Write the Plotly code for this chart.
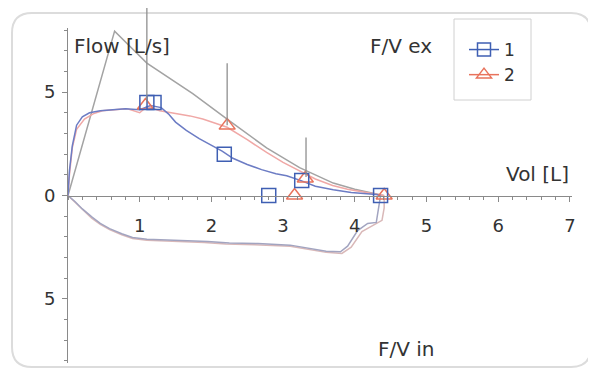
import plotly.graph_objects as go

# ---------------- data ----------------
# trial 1 (blue) expiratory limb
vol1_ex = [0, 0.02, 0.06, 0.12, 0.2, 0.3, 0.45, 0.6, 0.8, 1.0, 1.15, 1.3, 1.4, 1.5, 1.65, 1.83,
           2.0, 2.15, 2.3, 2.5, 2.7, 2.9, 3.05, 3.25, 3.45, 3.7, 3.95, 4.15, 4.3, 4.36]
flow1_ex = [0, 1.2, 2.4, 3.4, 3.8, 4.0, 4.1, 4.15, 4.2, 4.15, 4.35, 4.25, 3.95, 3.55, 3.15, 2.75,
            2.45, 2.15, 1.8, 1.5, 1.25, 1.05, 0.95, 0.72, 0.45, 0.28, 0.15, 0.1, 0.05, 0]
# trial 1 inspiratory limb
vol1_in = [4.36, 4.34, 4.32, 4.3, 4.18, 4.04, 3.9, 3.8, 3.6, 3.45, 3.1, 2.65, 2.25, 1.95, 1.5,
           1.1, 0.9, 0.75, 0.58, 0.45, 0.34, 0.2, 0.1, 0]
flow1_in = [0, -0.4, -0.9, -1.3, -1.35, -1.7, -2.45, -2.72, -2.7, -2.62, -2.4, -2.32, -2.3, -2.22,
            -2.17, -2.12, -2.03, -1.85, -1.6, -1.35, -1.06, -0.65, -0.3, 0]
# trial 2 (red) expiratory limb
vol2_ex = [0, 0.02, 0.06, 0.12, 0.23, 0.35, 0.48, 0.65, 0.82, 1.0, 1.1, 1.28, 1.51, 1.7, 1.88,
           2.05, 2.22, 2.5, 2.77, 3.0, 3.23, 3.45, 3.69, 3.9, 4.16, 4.3, 4.41]
flow2_ex = [0, 1.0, 2.3, 3.2, 3.7, 3.95, 4.1, 4.15, 4.2, 4.0, 4.3, 4.1, 3.96, 3.85, 3.7,
            3.5, 3.3, 2.7, 2.08, 1.6, 1.2, 0.8, 0.48, 0.3, 0.15, 0.08, 0]
# trial 2 inspiratory limb
vol2_in = [4.41, 4.41, 4.38, 4.25, 4.1, 3.95, 3.82, 3.6, 3.4, 3.1, 2.6, 2.2, 1.9, 1.5, 1.1,
           0.9, 0.75, 0.58, 0.45, 0.33, 0.2, 0.1, 0]
flow2_in = [0, -0.6, -1.2, -1.45, -1.75, -2.5, -2.8, -2.75, -2.62, -2.45, -2.38, -2.35, -2.27,
            -2.2, -2.16, -2.08, -1.9, -1.65, -1.4, -1.1, -0.68, -0.32, 0]
# predicted curve (gray)
vol_pred = [0, 0.65, 1.1, 1.42, 1.74, 2.21, 2.77, 3.23, 3.7, 4.0, 4.4]
flow_pred = [0, 7.95, 6.4, 5.65, 4.93, 3.72, 2.3, 1.35, 0.6, 0.3, 0]
# marker points
vol1_mk = [1.1, 1.2, 2.18, 3.26, 2.8, 4.36]
flow1_mk = [4.5, 4.5, 2.0, 0.72, 0, 0]
vol2_mk = [1.08, 2.22, 3.31, 3.16, 4.41]
flow2_mk = [4.35, 3.38, 0.82, 0, 0]
# predicted range bars
range_vol = [1.1, 2.22, 3.32]
range_lo = [4.5, 3.4, 0.9]
range_hi = [9.9, 6.4, 2.8]
# axes
x_ticks = [1, 2, 3, 4, 5, 6, 7]
y_ticks = [-5, 0, 5]
y_ticktext = ["5", "0", "5"]
series_names = ["1", "2"]

# ---------------- style ----------------
OFF = 8                      # page body margin offset (screen = figure + OFF)
W, H = 596 - OFF, 374 - OFF
# plot area in screen pixels
SX0, SX1, SY0, SY1 = 68, 572, 28, 363
ML, MT = SX0 - OFF, SY0 - OFF
MR, MB = W - (SX1 - OFF), H - (SY1 - OFF)
PW, PH = SX1 - SX0, SY1 - SY0
XR = [0, 7.03]
YR = [-8.1, 8.1]
FONT = "DejaVu Sans"
BLUE_LINE = "#6c7cc4"
BLUE_MK = "#3f5fb3"
RED_LINE = "#f0a8a6"
RED_MK = "#e8735c"
GRAY = "#a3a3a3"
AXIS = "#8a8a8a"
TXT = "#333333"


def xp(v):
    return (v - XR[0]) / (XR[1] - XR[0])


def yp(v):
    return (v - YR[0]) / (YR[1] - YR[0])


def pxp(sx):
    return (sx - SX0) / PW


def pyp(sy):
    return (SY1 - sy) / PH


fig = go.Figure()

fig.add_trace(go.Scatter(x=vol_pred, y=flow_pred, mode="lines",
                         line=dict(color=GRAY, width=1.5), showlegend=False, hoverinfo="skip"))
fig.add_trace(go.Scatter(x=vol2_in, y=flow2_in, mode="lines",
                         line=dict(color="#d9b8b8", width=1.5), showlegend=False))
fig.add_trace(go.Scatter(x=vol1_in, y=flow1_in, mode="lines",
                         line=dict(color="#a2a4c0", width=1.5), showlegend=False))
fig.add_trace(go.Scatter(x=vol2_ex, y=flow2_ex, mode="lines",
                         line=dict(color=RED_LINE, width=1.5), showlegend=False))
fig.add_trace(go.Scatter(x=vol1_ex, y=flow1_ex, mode="lines",
                         line=dict(color=BLUE_LINE, width=1.5), showlegend=False))
fig.add_trace(go.Scatter(x=vol2_mk, y=flow2_mk, mode="markers", cliponaxis=False,
                         marker=dict(symbol="triangle-up-open", size=14,
                                     line=dict(color=RED_MK, width=1.5), color=RED_MK),
                         showlegend=False))
fig.add_trace(go.Scatter(x=vol1_mk, y=flow1_mk, mode="markers", cliponaxis=False,
                         marker=dict(symbol="square-open", size=14,
                                     line=dict(color=BLUE_MK, width=1.5), color=BLUE_MK),
                         showlegend=False))
# legend entries
fig.add_trace(go.Scatter(x=[None], y=[None], mode="lines+markers", name=series_names[0],
                         line=dict(color=BLUE_MK, width=1.5),
                         marker=dict(symbol="square-open", size=13, color=BLUE_MK,
                                     line=dict(color=BLUE_MK, width=1.5))))
fig.add_trace(go.Scatter(x=[None], y=[None], mode="lines+markers", name=series_names[1],
                         line=dict(color=RED_MK, width=1.5),
                         marker=dict(symbol="triangle-up-open", size=13, color=RED_MK,
                                     line=dict(color=RED_MK, width=1.5))))

shapes = []
# card border (rounded)
x0, x1, y0, y1, r = 12, 591, 13, 367, 20
path = (f"M {pxp(x0 + r)},{pyp(y0)} L {pxp(x1 - r)},{pyp(y0)} "
        f"Q {pxp(x1)},{pyp(y0)} {pxp(x1)},{pyp(y0 + r)} "
        f"L {pxp(x1)},{pyp(y1 - r)} Q {pxp(x1)},{pyp(y1)} {pxp(x1 - r)},{pyp(y1)} "
        f"L {pxp(x0 + r)},{pyp(y1)} Q {pxp(x0)},{pyp(y1)} {pxp(x0)},{pyp(y1 - r)} "
        f"L {pxp(x0)},{pyp(y0 + r)} Q {pxp(x0)},{pyp(y0)} {pxp(x0 + r)},{pyp(y0)} Z")
shapes.append(dict(type="path", path=path, xref="paper", yref="paper", layer="below",
                   line=dict(color="#dcdcdc", width=2), fillcolor="white"))
# legend box
shapes.append(dict(type="rect", xref="paper", yref="paper", layer="below",
                   x0=pxp(454), x1=pxp(531), y0=pyp(100), y1=pyp(19),
                   line=dict(color="#d0d0d0", width=1), fillcolor="white"))
for v, lo, hi in zip(range_vol, range_lo, range_hi):
    shapes.append(dict(type="line", xref="paper", yref="paper",
                       x0=xp(v), x1=xp(v), y0=yp(lo), y1=yp(hi),
                       line=dict(color="#8f8f8f", width=1.3), layer="above"))

annots = [
    dict(text="Flow [L/s]", x=0.05, y=7.25, xanchor="left", yanchor="middle"),
    dict(text="F/V ex", x=5.1, y=7.25, xanchor="right", yanchor="middle"),
    dict(text="Vol [L]", x=7.01, y=1.06, xanchor="right", yanchor="middle"),
    dict(text="F/V in", x=4.29, y=-7.44, xanchor="left", yanchor="middle"),
]
for a in annots:
    a.update(xref="x", yref="y", showarrow=False, font=dict(family=FONT, size=20, color=TXT))

fig.update_layout(
    width=W, height=H,
    margin=dict(l=ML, r=MR, t=MT, b=MB),
    paper_bgcolor="white", plot_bgcolor="rgba(0,0,0,0)",
    font=dict(family=FONT, size=18, color=TXT),
    shapes=shapes, annotations=annots,
    showlegend=True,
    legend=dict(x=pxp(464), y=pyp(32), xanchor="left", yanchor="top",
                bgcolor="rgba(0,0,0,0)", borderwidth=0,
                font=dict(family=FONT, size=17, color=TXT), itemwidth=30),
    xaxis=dict(range=XR, anchor="free", position=0.5, showline=True, linecolor=AXIS,
               linewidth=1, ticks="outside", ticklen=5, tickcolor=AXIS, tickwidth=1,
               tickvals=x_ticks, showgrid=False, zeroline=False, ticklabelstandoff=9,
               tickfont=dict(family=FONT, size=18, color=TXT),
               minor=dict(dtick=0.2, ticks="outside", ticklen=3, tickcolor=AXIS, showgrid=False)),
    yaxis=dict(range=YR, showline=True, linecolor=AXIS, linewidth=1, ticks="outside",
               ticklen=5, tickcolor=AXIS, tickwidth=1, tickvals=y_ticks, ticktext=y_ticktext,
               showgrid=False, zeroline=False, ticklabelstandoff=3,
               tickfont=dict(family=FONT, size=18, color=TXT),
               minor=dict(dtick=1, ticks="outside", ticklen=3, tickcolor=AXIS, showgrid=False)),
)

fig.write_html("out.html")
